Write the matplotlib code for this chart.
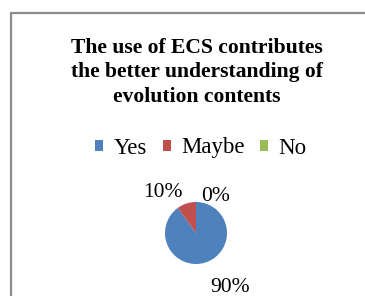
import matplotlib
matplotlib.use("Agg")
import matplotlib.pyplot as plt
from matplotlib.patches import Patch, Rectangle

categories = ["Yes", "Maybe", "No"]
values = [90, 10, 0]
labels = ["90%", "10%", "0%"]
colors = ["#4F81BD", "#C0504D", "#9BBB59"]
title_lines = ["The use of ECS contributes", "the better understanding of", "evolution contents"]

plt.rcParams['font.family'] = ['Liberation Serif', 'DejaVu Serif']

W, H = 365, 296
fig = plt.figure(figsize=(W / 100, H / 100), dpi=100)
fig.patch.set_facecolor("white")

# border
fig.patches.append(Rectangle((10.5 / W, -0.1), 2.0, 1 - 12.5 / H + 0.1,
                             transform=fig.transFigure, fill=False,
                             edgecolor="#8c8c8c", linewidth=1.6))

# title (baselines at 53, 77.5, 102 px from top)
for i, line in enumerate(title_lines):
    fig.text(197 / W, 1 - (53 + 24.5 * i) / H, line, ha="center", va="baseline",
             fontsize=15.6, fontweight="bold")

# pie axes: center (196, 233) px, radius 31 px
cx, cy, r = 196, H - 233, 31
half = 2 * r
ax = fig.add_axes([(cx - half) / W, (cy - half) / H, 2 * half / W, 2 * half / H])
ax.pie(values, colors=colors, startangle=90, counterclock=False, radius=1,
       wedgeprops=dict(linewidth=0))
ax.set_xlim(-2, 2)
ax.set_ylim(-2, 2)
ax.set_aspect("equal")
ax.axis("off")

label_pos = {"90%": (1.1, -1.76), "10%": (-1.06, 1.3), "0%": (0.62, 1.18)}
for lab in labels:
    x, y = label_pos[lab]
    ax.text(x, y, lab, ha="center", va="center", fontsize=15.5, clip_on=False)

handles = [Patch(facecolor=c, edgecolor="none") for c in colors]
fig.legend(handles, categories, loc="center", bbox_to_anchor=(201 / W, 1 - 148 / H),
           ncol=3, frameon=False, fontsize=16.5, handlelength=0.34, handleheight=0.34,
           handletextpad=0.45, columnspacing=0.7, borderpad=0)

fig.savefig("out.png", dpi=100)
